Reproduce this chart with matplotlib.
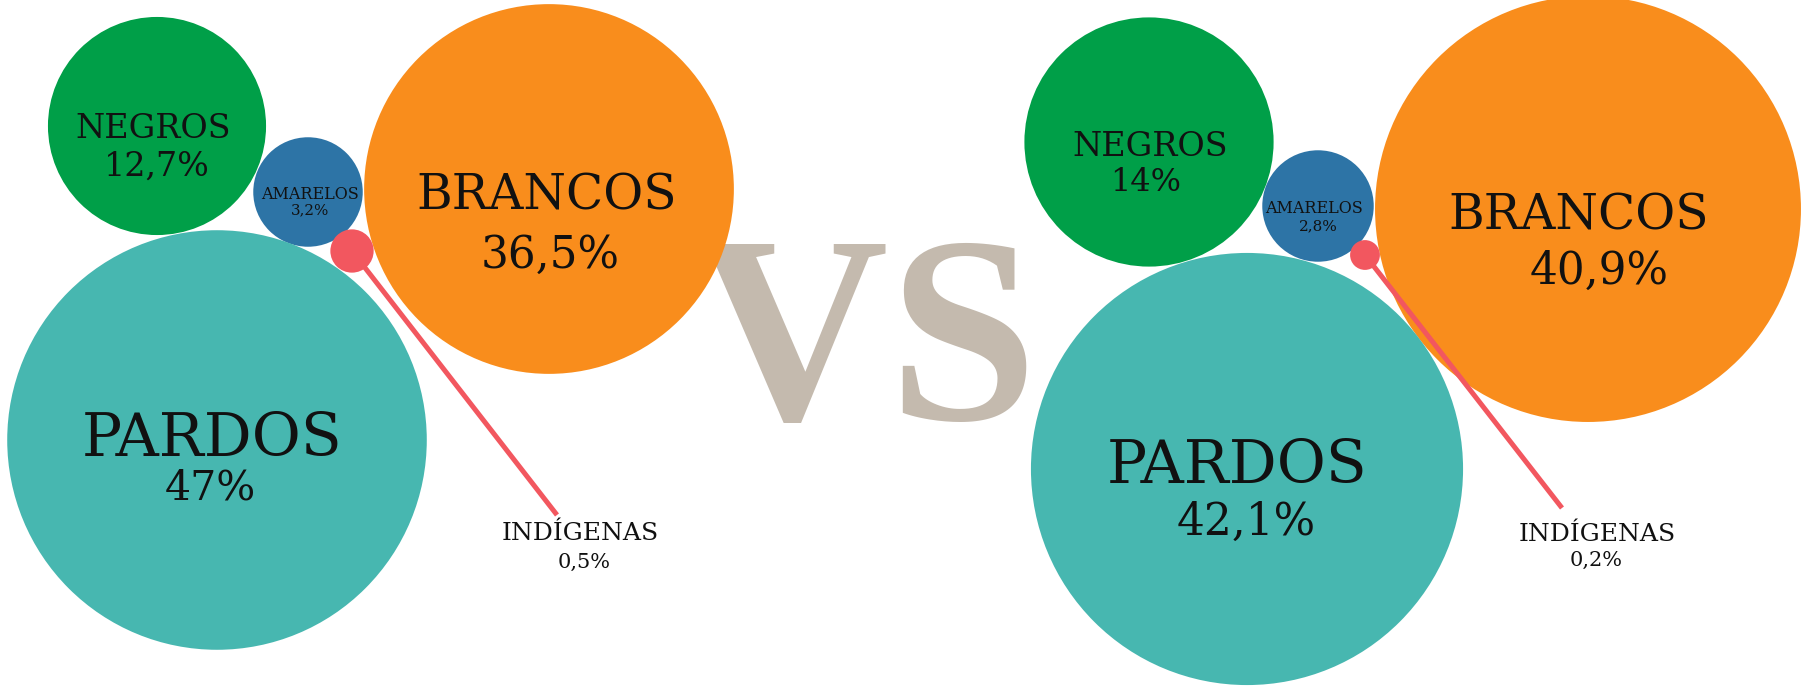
import numpy as np
import matplotlib
matplotlib.use("Agg")
import matplotlib.pyplot as plt
from matplotlib.patches import Circle

# ---------------- data ----------------
categories = ["PARDOS", "BRANCOS", "NEGROS", "AMARELOS", "INDÍGENAS"]
values_left = [47.0, 36.5, 12.7, 3.2, 0.5]
values_right = [42.1, 40.9, 14.0, 2.8, 0.2]

# ---------------- styles ----------------
colors = {
    "PARDOS": "#47b7b0",
    "BRANCOS": "#f98d1c",
    "NEGROS": "#009f48",
    "AMARELOS": "#2d74a6",
    "INDÍGENAS": "#f2575f",
}
vs_color = "#c4baae"
label_font = ["DejaVu Serif"]

# ---------------- layout (pixel coordinates, y downward) ----------------
# bubble radius = scale * sqrt(value)
scale_left = 30.6
scale_right = 33.3
centers_left = {"PARDOS": (217, 440), "BRANCOS": (549, 189), "NEGROS": (157, 126),
                "AMARELOS": (308, 192), "INDÍGENAS": (352, 251)}
centers_right = {"PARDOS": (1247, 469), "BRANCOS": (1588, 209), "NEGROS": (1149, 142),
                 "AMARELOS": (1318, 206), "INDÍGENAS": (1365, 255)}
# (name_x, name_baseline, name_size, value_x, value_baseline, value_size)
labels_left = {
    "PARDOS": (212, 456, 43, 210, 499, 29.5),
    "BRANCOS": (547, 209, 35, 550, 268, 31.5),
    "NEGROS": (153, 138, 24, 157, 176, 24),
    "AMARELOS": (310, 199, 11.5, 310, 214, 10.8),
    "INDÍGENAS": (580, 540, 18, 584, 568, 15),
}
labels_right = {
    "PARDOS": (1237, 483, 43, 1246, 535, 31.5),
    "BRANCOS": (1579, 230, 35, 1599, 284, 31.5),
    "NEGROS": (1150, 156, 24, 1146, 191, 23),
    "AMARELOS": (1314, 213, 11.5, 1318, 230, 11),
    "INDÍGENAS": (1597, 541, 18, 1596, 566, 15),
}
leader_end_left = (557, 515)
leader_end_right = (1562, 508)

W, H = 1808, 688
fig = plt.figure(figsize=(W / 100, H / 100), dpi=100)
fig.patch.set_facecolor("white")
ax = fig.add_axes([0, 0, 1, 1])
ax.set_xlim(0, W)
ax.set_ylim(H, 0)
ax.axis("off")

# VS in the middle, behind the bubbles
ax.text(866, 419, "VS", ha="center", va="baseline", fontsize=193,
        family=["Liberation Serif", "DejaVu Serif"], fontweight="bold",
        color=vs_color, zorder=0)


def fmt(v):
    return f"{v:g}".replace(".", ",") + "%"


def draw_panel(values, centers, labels, scale, leader_end):
    order = ["NEGROS", "AMARELOS", "BRANCOS", "PARDOS"]
    vals = dict(zip(categories, values))
    for z, cat in enumerate(order):
        cx, cy = centers[cat]
        r = scale * np.sqrt(vals[cat])
        ax.add_patch(Circle((cx, cy), r, facecolor=colors[cat], edgecolor="none", zorder=2 + z))
    # Indígenas: small dot with a leader line
    cat = "INDÍGENAS"
    cx, cy = centers[cat]
    r = scale * np.sqrt(vals[cat])
    ax.plot([cx, leader_end[0]], [cy, leader_end[1]], color=colors[cat], lw=3.6,
            solid_capstyle="butt", zorder=10)
    ax.add_patch(Circle((cx, cy), r, facecolor=colors[cat], edgecolor="none", zorder=11))
    for cat in categories:
        nx, ny, ns, vx, vy, vs = labels[cat]
        ax.text(nx, ny, cat, ha="center", va="baseline", fontsize=ns,
                family=label_font, color="#111111", zorder=20)
        ax.text(vx, vy, fmt(vals[cat]), ha="center", va="baseline", fontsize=vs,
                family=label_font, color="#111111", zorder=20)


draw_panel(values_left, centers_left, labels_left, scale_left, leader_end_left)
draw_panel(values_right, centers_right, labels_right, scale_right, leader_end_right)

fig.savefig("out.png", dpi=100, facecolor="white")
